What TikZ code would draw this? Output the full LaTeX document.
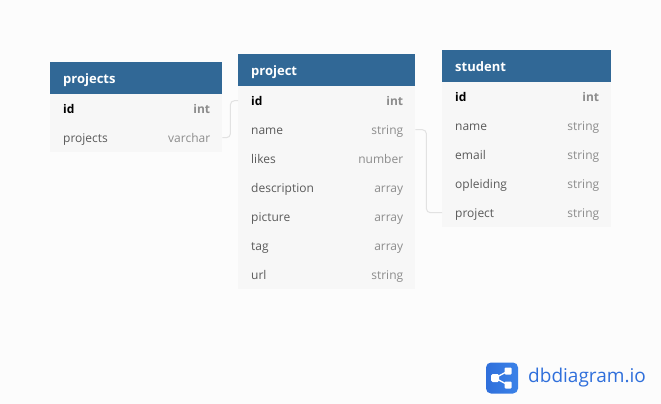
\documentclass[tikz,border=0pt]{standalone}
\usepackage{fontspec}
\setmainfont{Open Sans}
\usetikzlibrary{calc}
\definecolor{pagebg}{HTML}{FCFCFC}
\definecolor{headblue}{HTML}{316896}
\definecolor{rowgray}{HTML}{F7F7F7}
\definecolor{fieldgray}{HTML}{5A5A5A}
\definecolor{typegray}{HTML}{8C8C8C}
\definecolor{linkgray}{HTML}{E2E2E2}
\definecolor{logoblue}{HTML}{2F6FDB}
\definecolor{logolight}{HTML}{3B82E8}
\tikzset{
	headbox/.style={fill=headblue, inner sep=0pt, minimum height=32pt, text=white, font=\fontsize{13}{14}\selectfont\bfseries, text height=11pt, text depth=1pt, text width=#1-26pt, minimum width=#1, align=left, anchor=north west},
	rowbox/.style={fill=rowgray, inner sep=0pt, minimum height=29pt, minimum width=#1, anchor=north west},
	fieldname/.style={anchor=west, inner sep=0pt, text height=11pt, text depth=1pt, text=fieldgray, font=\fontsize{12}{14}\selectfont},
	fieldtype/.style={anchor=east, inner sep=0pt, text height=11pt, text depth=1pt, text=typegray, font=\fontsize{12}{14}\selectfont},
	keyname/.style={fieldname, text=black, font=\fontsize{12}{14}\selectfont\bfseries},
	keytype/.style={fieldtype, font=\fontsize{12}{14}\selectfont\bfseries},
	link/.style={draw=linkgray, line width=1pt, rounded corners=4pt}
}
\begin{document}
\begin{tikzpicture}[x=1pt, y=-1pt]
	\def\rowh{29}
	\fill[pagebg] (0,0) rectangle (661,404);
	\useasboundingbox (0,0) rectangle (661,404);

	% projects
	\node[headbox=172pt] (projects) at (50,62) {projects};
	\foreach \n/\t/\s [count=\i from 0] in {id/int/key, projects/varchar/field}
	{
		\node[rowbox=172pt] (projects-\n) at (50, 94 + \i*\rowh) {};
		\node[\s name] () at ($(projects-\n.west)+(13,0)$) {\n};
		\node[\s type] () at ($(projects-\n.east)+(-12,0)$) {\t};
	}

	% project
	\node[headbox=177pt] (project) at (238,54) {project};
	\foreach \n/\t/\s [count=\i from 0] in {id/int/key, name/string/field, likes/number/field, description/array/field, picture/array/field, tag/array/field, url/string/field}
	{
		\node[rowbox=177pt] (project-\n) at (238, 86 + \i*\rowh) {};
		\node[\s name] () at ($(project-\n.west)+(13,0)$) {\n};
		\node[\s type] () at ($(project-\n.east)+(-12,0)$) {\t};
	}

	% student
	\node[headbox=169pt] (student) at (442,50) {student};
	\foreach \n/\t/\s [count=\i from 0] in {id/int/key, name/string/field, email/string/field, opleiding/string/field, project/string/field}
	{
		\node[rowbox=169pt] (student-\n) at (442, 82 + \i*\rowh) {};
		\node[\s name] () at ($(student-\n.west)+(13,0)$) {\n};
		\node[\s type] () at ($(student-\n.east)+(-12,0)$) {\t};
	}

	% relations
	\draw[link] (projects-projects.east) -- ++(8,0) |- (project-id.west);
	\draw[link] (project-name.east) -- ++(11,0) |- (student-project.west);

	% logo
	\node[left color=logoblue, right color=logolight, rounded corners=5pt, minimum width=32pt, minimum height=31pt, inner sep=0pt] (logo) at (502,378) {};
	\node[anchor=west, inner sep=0pt, text=logoblue, font=\fontsize{19}{20}\selectfont] (logotext) at (528,378) {dbdiagram.io};
	\coordinate (hub) at (495,378);
	\coordinate (up) at (508,371);
	\coordinate (down) at (508,385);
	\draw[white, line width=1.3pt] (up) -- (hub) -- (down);
	\fill[white, rounded corners=1.5pt] ($(hub)+(-4,-4)$) rectangle ($(hub)+(4,4)$);
	\fill[white, rounded corners=1pt] ($(up)+(-3.5,-3.5)$) rectangle ($(up)+(3.5,3.5)$);
	\fill[white, rounded corners=1pt] ($(down)+(-3.5,-3.5)$) rectangle ($(down)+(3.5,3.5)$);
\end{tikzpicture}
\end{document}
